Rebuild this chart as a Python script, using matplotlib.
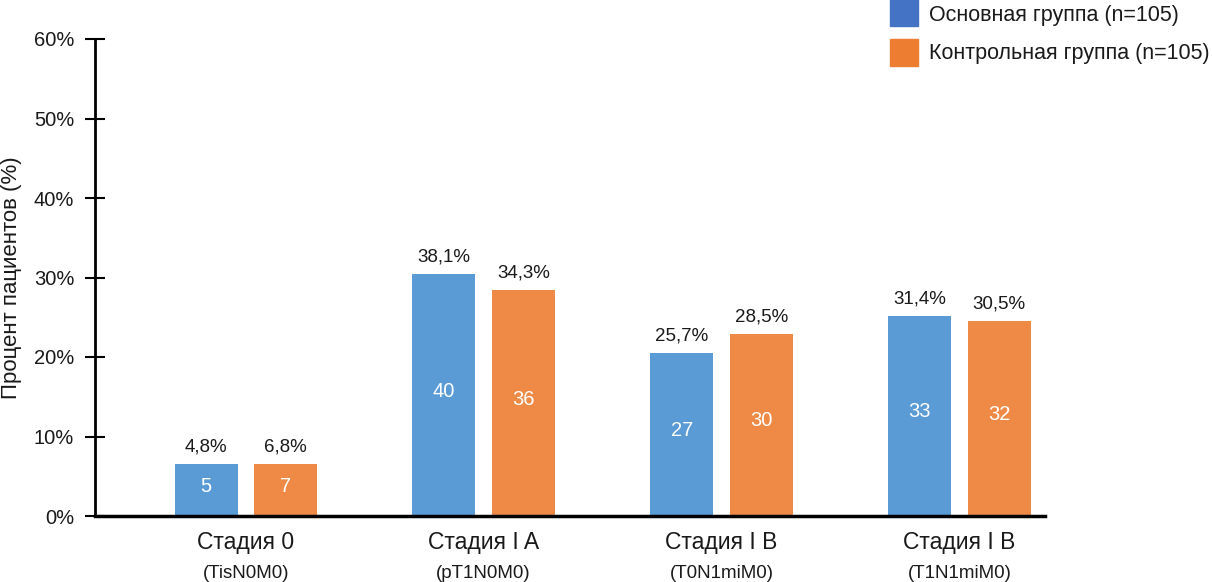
import numpy as np
import matplotlib.pyplot as plt

plt.rcParams['font.family'] = ['Liberation Sans', 'DejaVu Sans']

# categories
stages = ['Стадия 0', 'Стадия I A', 'Стадия I B', 'Стадия I B']
tnm = ['(TisN0M0)', '(pT1N0M0)', '(T0N1miM0)', '(T1N1miM0)']

# bar heights as drawn (percent scale)
main_height = [6.5, 30.4, 20.5, 25.2]
ctrl_height = [6.5, 28.4, 22.9, 24.5]

# labels shown on the bars
main_pct = ['4,8%', '38,1%', '25,7%', '31,4%']
ctrl_pct = ['6,8%', '34,3%', '28,5%', '30,5%']
main_n = [5, 40, 27, 33]
ctrl_n = [7, 36, 30, 32]

series_names = ['Основная группа (n=105)', 'Контрольная группа (n=105)']

blue = '#5B9BD5'
orange = '#EE8A45'
legend_blue = '#4472C4'
legend_orange = '#ED7D31'
txt = '#1a1a1a'

fig = plt.figure(figsize=(12.12, 5.82), dpi=100)
ax = fig.add_axes([95 / 1212, 1 - 516 / 582, 950 / 1212, (516 - 39) / 582])

x = np.arange(len(stages))
w = 0.265
off = 0.167
b1 = ax.bar(x - off, main_height, w, color=blue)
b2 = ax.bar(x + off, ctrl_height, w, color=orange)

for bars, pcts, ns in [(b1, main_pct, main_n), (b2, ctrl_pct, ctrl_n)]:
    for bar, p, n in zip(bars, pcts, ns):
        cx = bar.get_x() + bar.get_width() / 2
        h = bar.get_height()
        ax.annotate(p, (cx, h), xytext=(0, 6), textcoords='offset points',
                    ha='center', va='bottom', fontsize=13.5, color=txt)
        ax.text(cx, h / 2 + 0.5, str(n), ha='center', va='center',
                fontsize=14.5, color='white')

ax.set_xlim(-0.634, 3.36)
ax.set_ylim(0, 60)
ax.set_yticks(np.arange(0, 61, 10))
ax.set_yticklabels([f'{v}%' for v in range(0, 61, 10)], fontsize=14.5, color=txt)
ax.tick_params(axis='y', direction='inout', length=14, width=1.5, pad=8)
ax.set_xticks([])

for s in ['top', 'right']:
    ax.spines[s].set_visible(False)
ax.spines['left'].set_linewidth(2)
ax.spines['bottom'].set_linewidth(2.5)

for i in range(len(stages)):
    ax.text(i, -1.9, stages[i], ha='center', va='top', fontsize=16.5,
            color=txt, clip_on=False)
    ax.text(i, -7.25, tnm[i], ha='center', va='center', fontsize=13.5,
            color=txt, clip_on=False)

fig.text(12 / 1212, 1 - 278 / 582, 'Процент пациентов (%)', rotation=90,
         ha='center', va='center', fontsize=16, color=txt)

# legend at top right
fig.patches.append(plt.Rectangle((890 / 1212, 1 - 26 / 582), 28 / 1212, 28 / 582,
                                 transform=fig.transFigure, color=legend_blue))
fig.patches.append(plt.Rectangle((890 / 1212, 1 - 66 / 582), 28 / 1212, 27 / 582,
                                 transform=fig.transFigure, color=legend_orange))
fig.text(929 / 1212, 1 - 16 / 582, series_names[0], va='center', fontsize=15.5, color=txt)
fig.text(929 / 1212, 1 - 54 / 582, series_names[1], va='center', fontsize=15.5, color=txt)

fig.savefig('out.png', dpi=100)
